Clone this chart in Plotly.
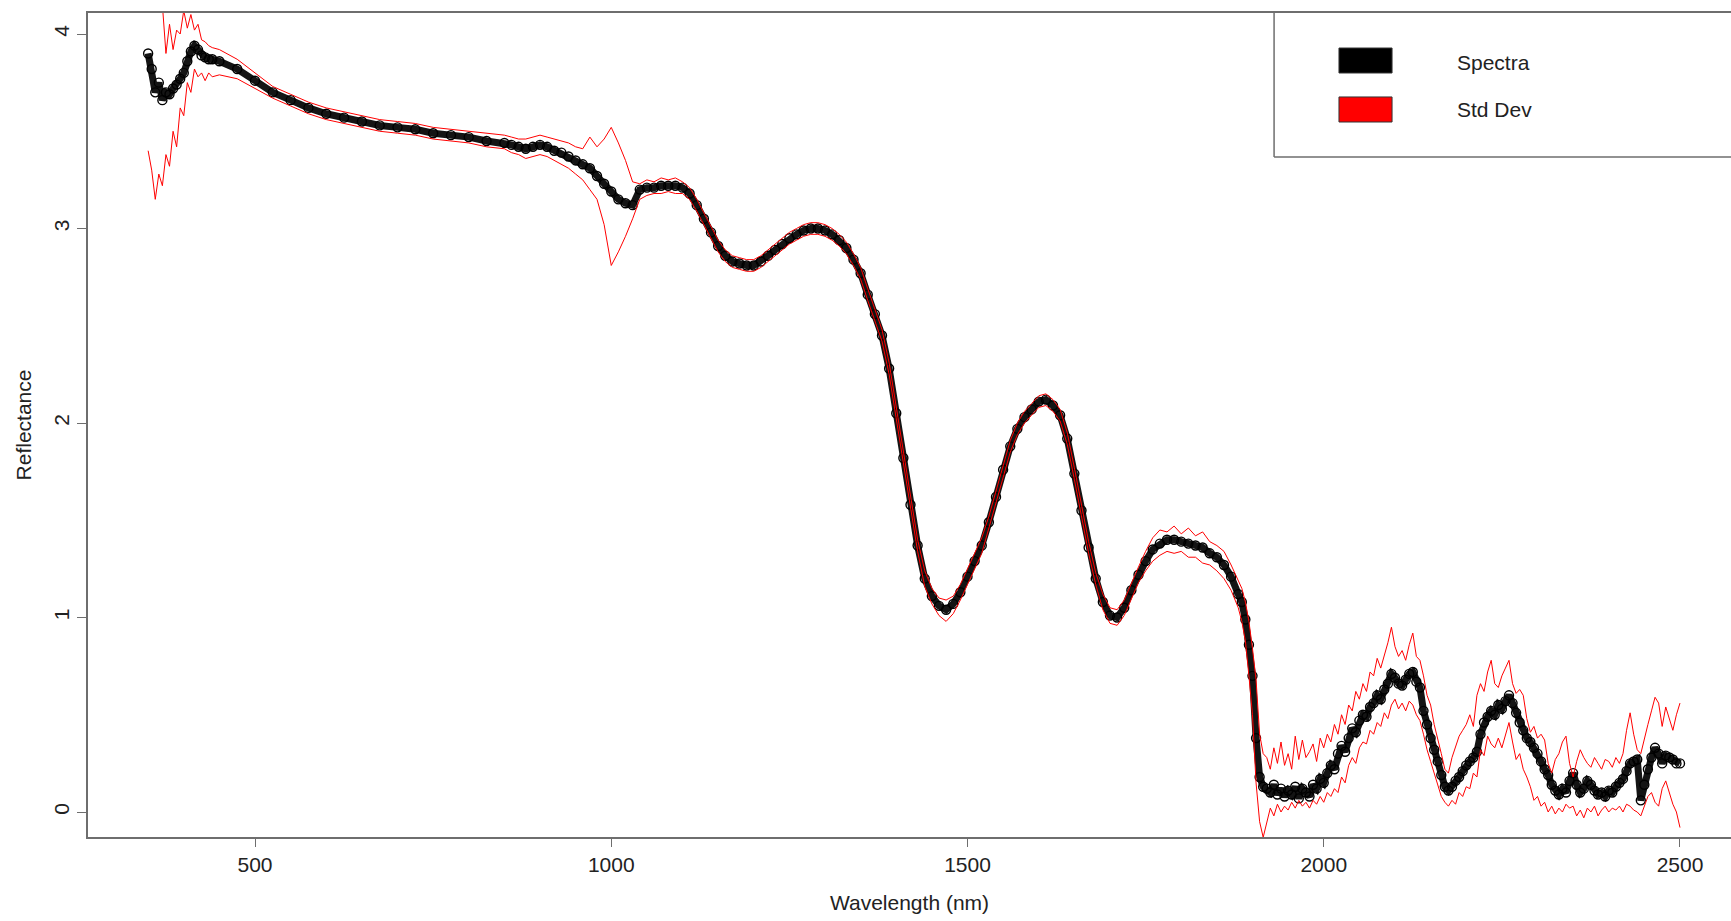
import plotly.graph_objects as go

# ---------------- data ----------------
# wavelength grid (nm): finer where the spectrum is noisy
wavelength = (list(range(350, 445, 5)) + list(range(450, 851, 25)) +
              list(range(860, 1041, 10)) + list(range(1050, 1881, 10)) +
              list(range(1885, 2501, 5)))

spectra = [
    # 350-440 (5 nm)
    3.90, 3.82, 3.70, 3.75, 3.66, 3.70, 3.69, 3.72, 3.74, 3.77,
    3.80, 3.86, 3.91, 3.94, 3.92, 3.89, 3.88, 3.87, 3.87,
    # 450-850 (25 nm)
    3.86, 3.82, 3.76, 3.70, 3.66, 3.62, 3.59, 3.57, 3.55, 3.53,
    3.52, 3.51, 3.49, 3.48, 3.47, 3.45, 3.44,
    # 860-1040 (10 nm)
    3.43, 3.42, 3.41, 3.42, 3.43, 3.42, 3.40, 3.39, 3.37, 3.35,
    3.33, 3.31, 3.27, 3.23, 3.19, 3.15, 3.13, 3.12, 3.20,
    # 1050-1880 (10 nm)
    3.21, 3.21, 3.22, 3.22, 3.22, 3.21, 3.18, 3.12, 3.05, 2.98,
    2.91, 2.86, 2.83, 2.82, 2.81, 2.81, 2.83, 2.86, 2.89, 2.92,
    2.95, 2.97, 2.99, 3.00, 3.00, 2.99, 2.97, 2.94, 2.90, 2.84,
    2.77, 2.66, 2.56, 2.45, 2.28, 2.05, 1.82, 1.58, 1.37, 1.20,
    1.11, 1.06, 1.04, 1.07, 1.13, 1.21, 1.29, 1.37, 1.49, 1.62,
    1.76, 1.88, 1.97, 2.03, 2.07, 2.11, 2.12, 2.09, 2.04, 1.92,
    1.74, 1.55, 1.36, 1.20, 1.08, 1.01, 1.00, 1.05, 1.14, 1.22,
    1.29, 1.35, 1.38, 1.40, 1.40, 1.39, 1.38, 1.37, 1.36, 1.33,
    1.31, 1.27, 1.21, 1.12,
    # 1885-2500 (5 nm)
    1.08, 0.99, 0.86, 0.70, 0.38, 0.18, 0.13, 0.12, 0.10, 0.14,
    0.09, 0.12, 0.08, 0.11, 0.09, 0.13, 0.07, 0.12, 0.10, 0.08,
    0.14, 0.12, 0.17, 0.15, 0.20, 0.24, 0.22, 0.30, 0.34, 0.31,
    0.38, 0.43, 0.41, 0.47, 0.50, 0.49, 0.54, 0.56, 0.60, 0.58,
    0.63, 0.66, 0.71, 0.69, 0.66, 0.65, 0.68, 0.71, 0.72, 0.67,
    0.64, 0.52, 0.45, 0.38, 0.32, 0.26, 0.19, 0.13, 0.11, 0.13,
    0.16, 0.18, 0.21, 0.24, 0.26, 0.28, 0.31, 0.40, 0.46, 0.49,
    0.52, 0.50, 0.55, 0.53, 0.57, 0.60, 0.56, 0.51, 0.46, 0.42,
    0.38, 0.36, 0.33, 0.30, 0.26, 0.22, 0.19, 0.14, 0.11, 0.09,
    0.12, 0.10, 0.16, 0.20, 0.14, 0.10, 0.12, 0.16, 0.14, 0.11,
    0.09, 0.10, 0.08, 0.11, 0.10, 0.13, 0.15, 0.17, 0.21, 0.25,
    0.26, 0.27, 0.06, 0.14, 0.22, 0.28, 0.33, 0.30, 0.25, 0.29,
    0.28, 0.27, 0.25, 0.25,
]

sd_upper = [
    4.50, 4.40, 4.30, 4.20, 4.15, 3.90, 4.05, 3.92, 4.02, 4.00,
    4.12, 4.03, 4.10, 4.02, 4.05, 3.97, 3.96, 3.94, 3.93,
    3.92, 3.87, 3.80, 3.73, 3.69, 3.65, 3.62, 3.60, 3.58, 3.56,
    3.55, 3.54, 3.52, 3.51, 3.50, 3.49, 3.48,
    3.47, 3.46, 3.46, 3.47, 3.48, 3.47, 3.46, 3.45, 3.44, 3.42,
    3.41, 3.47, 3.42, 3.46, 3.52, 3.44, 3.35, 3.24, 3.23,
    3.25, 3.24, 3.26, 3.25, 3.26, 3.24, 3.21, 3.15, 3.08, 3.01,
    2.94, 2.89, 2.86, 2.85, 2.84, 2.84, 2.86, 2.89, 2.92, 2.95,
    2.98, 3.00, 3.02, 3.03, 3.03, 3.02, 3.00, 2.97, 2.93, 2.87,
    2.80, 2.69, 2.59, 2.48, 2.31, 2.08, 1.85, 1.61, 1.40, 1.24,
    1.15, 1.10, 1.09, 1.11, 1.17, 1.25, 1.33, 1.41, 1.52, 1.65,
    1.79, 1.91, 2.00, 2.06, 2.10, 2.14, 2.15, 2.12, 2.07, 1.95,
    1.77, 1.58, 1.39, 1.23, 1.12, 1.05, 1.04, 1.09, 1.18, 1.26,
    1.34, 1.41, 1.45, 1.44, 1.47, 1.43, 1.46, 1.42, 1.44, 1.39,
    1.37, 1.34, 1.27, 1.19,
    1.15, 1.08, 0.98, 0.84, 0.68, 0.40, 0.30, 0.28, 0.22, 0.33,
    0.25, 0.36, 0.24, 0.30, 0.22, 0.39, 0.27, 0.37, 0.28, 0.31,
    0.35, 0.26, 0.38, 0.33, 0.40, 0.36, 0.45, 0.40, 0.50, 0.45,
    0.55, 0.52, 0.62, 0.58, 0.66, 0.62, 0.72, 0.70, 0.79, 0.74,
    0.80, 0.87, 0.95, 0.85, 0.80, 0.83, 0.78, 0.86, 0.92, 0.80,
    0.78, 0.70, 0.60, 0.55, 0.45, 0.38, 0.30, 0.22, 0.20, 0.28,
    0.33, 0.39, 0.42, 0.45, 0.50, 0.44, 0.60, 0.66, 0.62, 0.72,
    0.78, 0.66, 0.64, 0.70, 0.74, 0.78, 0.66, 0.61, 0.63, 0.60,
    0.48, 0.41, 0.44, 0.38, 0.40, 0.37, 0.25, 0.20, 0.27, 0.30,
    0.36, 0.39, 0.25, 0.18, 0.26, 0.32, 0.28, 0.25, 0.23, 0.28,
    0.25, 0.22, 0.27, 0.26, 0.23, 0.28, 0.25, 0.30, 0.42, 0.51,
    0.40, 0.32, 0.30, 0.38, 0.45, 0.52, 0.59, 0.56, 0.44, 0.54,
    0.48, 0.42, 0.50, 0.56,
]

sd_lower = [
    3.40, 3.30, 3.15, 3.28, 3.22, 3.38, 3.32, 3.50, 3.42, 3.62,
    3.58, 3.75, 3.70, 3.82, 3.78, 3.80, 3.76, 3.80, 3.78,
    3.79, 3.77, 3.72, 3.67, 3.63, 3.59, 3.56, 3.54, 3.52, 3.50,
    3.49, 3.48, 3.46, 3.45, 3.44, 3.42, 3.41,
    3.39, 3.38, 3.36, 3.37, 3.38, 3.37, 3.35, 3.33, 3.31, 3.28,
    3.25, 3.20, 3.15, 3.02, 2.81, 2.88, 2.96, 3.05, 3.15,
    3.17, 3.18, 3.18, 3.19, 3.18, 3.18, 3.15, 3.09, 3.02, 2.95,
    2.88, 2.83, 2.80, 2.79, 2.78, 2.78, 2.80, 2.83, 2.86, 2.89,
    2.92, 2.94, 2.96, 2.97, 2.97, 2.96, 2.94, 2.91, 2.87, 2.81,
    2.74, 2.63, 2.53, 2.42, 2.25, 2.02, 1.79, 1.55, 1.34, 1.16,
    1.07, 1.01, 0.98, 1.02, 1.09, 1.17, 1.25, 1.33, 1.46, 1.59,
    1.73, 1.85, 1.94, 2.00, 2.04, 2.08, 2.09, 2.06, 2.01, 1.89,
    1.71, 1.52, 1.33, 1.17, 1.04, 0.97, 0.96, 1.01, 1.10, 1.18,
    1.24, 1.29, 1.32, 1.34, 1.33, 1.34, 1.31, 1.31, 1.28, 1.27,
    1.24, 1.20, 1.14, 1.05,
    0.98, 0.88, 0.70, 0.50, 0.15, -0.05, -0.13, -0.05, 0.02, -0.02,
    0.04, 0.00, 0.03, 0.01, 0.05, 0.02, 0.06, 0.03, 0.05, 0.02,
    0.06, 0.04, 0.08, 0.05, 0.10, 0.08, 0.12, 0.10, 0.18, 0.15,
    0.24, 0.28, 0.25, 0.33, 0.36, 0.35, 0.42, 0.40, 0.46, 0.44,
    0.51, 0.48, 0.55, 0.58, 0.53, 0.56, 0.52, 0.57, 0.55, 0.50,
    0.47, 0.40, 0.32, 0.26, 0.20, 0.14, 0.08, 0.05, 0.03, 0.06,
    0.04, 0.10, 0.08, 0.13, 0.12, 0.20, 0.18, 0.32, 0.29, 0.39,
    0.35, 0.33, 0.38, 0.33, 0.40, 0.46, 0.36, 0.27, 0.30, 0.22,
    0.18, 0.13, 0.06, 0.08, 0.03, 0.05, 0.00, 0.03, -0.01, 0.02,
    0.00, 0.04, 0.02, 0.03, -0.02, 0.01, -0.03, 0.02, 0.00, 0.03,
    -0.02, 0.01, 0.03, 0.00, 0.02, 0.01, 0.03, 0.00, 0.04, 0.03,
    0.01, 0.00, -0.02, 0.03, 0.08, 0.10, 0.05, 0.03, 0.12, 0.16,
    0.10, 0.04, 0.00, -0.08,
]

x_ticks = [500, 1000, 1500, 2000, 2500]
y_ticks = [0, 1, 2, 3, 4]
legend_labels = ["Spectra", "Std Dev"]
legend_colors = ["black", "#ff0000"]

assert len(wavelength) == len(spectra) == len(sd_upper) == len(sd_lower)

# ---------------- figure ----------------
FONT = "Liberation Sans, Arial, sans-serif"
fig = go.Figure()

fig.add_trace(go.Scatter(
    x=wavelength, y=spectra, mode="lines+markers", name="Spectra",
    line=dict(color="#141414", width=7),
    marker=dict(symbol="circle-open", size=9, color="black",
                line=dict(width=1.4, color="black")),
    showlegend=False,
))
for ys, nm in ((sd_upper, "Std Dev +"), (sd_lower, "Std Dev -")):
    fig.add_trace(go.Scatter(
        x=wavelength, y=ys, mode="lines", name=nm,
        line=dict(color="#ff0000", width=1),
        showlegend=False,
    ))

axis_line = "#6e6e6e"
fig.update_xaxes(
    range=[265.6, 2571.6], tickvals=x_ticks, ticktext=[str(v) for v in x_ticks],
    showline=True, linecolor=axis_line, linewidth=2, mirror=True,
    ticks="outside", ticklen=8, tickwidth=1, tickcolor=axis_line,
    showgrid=False, zeroline=False,
    tickfont=dict(family=FONT, size=21, color="#222"),
    title=dict(text="Wavelength (nm)", font=dict(family=FONT, size=21, color="#222"),
               standoff=20),
)
fig.update_yaxes(
    range=[-0.1285, 4.108], tickvals=y_ticks, ticktext=[str(v) for v in y_ticks],
    showline=True, linecolor=axis_line, linewidth=2, mirror=False,
    ticks="outside", ticklen=9, tickwidth=1, tickcolor=axis_line,
    tickangle=-90, showgrid=False, zeroline=False,
    tickfont=dict(family=FONT, size=21, color="#222"),
    title=dict(text="Reflectance", font=dict(family=FONT, size=21, color="#222"),
               standoff=12),
)

# legend drawn as R-style box (paper coordinates)
shapes = [
    dict(type="line", xref="paper", yref="paper", x0=0.7219, x1=0.7219,
         y0=0.8252, y1=1.0, line=dict(color=axis_line, width=1.5)),
    dict(type="line", xref="paper", yref="paper", x0=0.7219, x1=1.0,
         y0=0.8252, y1=0.8252, line=dict(color=axis_line, width=1.5)),
]
rect_y = [(0.9272, 0.9575), (0.8677, 0.8981)]
text_y = [0.9405, 0.8823]
annotations = []
for lab, col, (y0, y1), ty in zip(legend_labels, legend_colors, rect_y, text_y):
    shapes.append(dict(type="rect", xref="paper", yref="paper",
                       x0=0.7614, x1=0.7937, y0=y0, y1=y1,
                       fillcolor=col, line=dict(color="#333", width=1)))
    annotations.append(dict(xref="paper", yref="paper", x=0.8320, y=ty,
                            text=lab, showarrow=False, xanchor="left",
                            yanchor="middle",
                            font=dict(family=FONT, size=21, color="#222")))

fig.update_layout(
    width=1731, height=921,
    margin=dict(l=88, r=0, t=13, b=84),
    paper_bgcolor="white", plot_bgcolor="white",
    shapes=shapes, annotations=annotations,
)

fig.write_html("out.html")
